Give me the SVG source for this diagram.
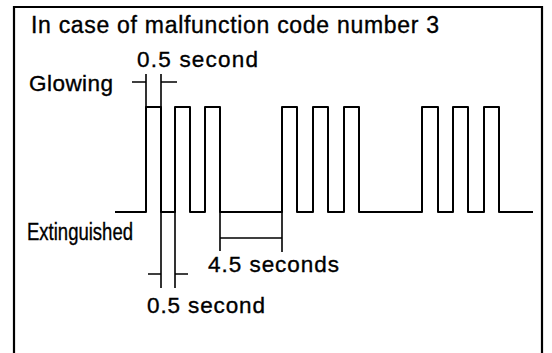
<svg xmlns="http://www.w3.org/2000/svg" width="552" height="353" viewBox="0 0 552 353">
  <style>
    .frame { fill: none; stroke: #000; stroke-width: 2.2; }
    .wave { fill: none; stroke: #000; stroke-width: 2; stroke-linejoin: round; }
    .dim { fill: none; stroke: #000; stroke-width: 1.6; }
    .t { font-family: "Liberation Sans", Arial, Helvetica, sans-serif; fill: #000; stroke: #000; stroke-width: 0.35; }
  </style>
  <rect width="552" height="353" fill="#fff"/>
  <g id="frame">
    <path class="frame" d="M14,353 V7 H542 V353"/>
  </g>
  <g id="title">
    <text class="t" x="31" y="33" font-size="23" textLength="408">In case of malfunction code number 3</text>
  </g>
  <g id="waveform">
    <path class="wave" d="M115,212 H146 V107 H161 V212 H175 V107 H190 V212 H205 V107 H220 V212 H282 V107 H297 V212 H313 V107 H328 V212 H344 V107 H359 V212 H422 V107 H438 V212 H453 V107 H468 V212 H484 V107 H499 V212 H533"/>
  </g>
  <g id="label-glowing">
    <text class="t" x="29" y="91" font-size="22.5" textLength="84">Glowing</text>
  </g>
  <g id="label-extinguished">
    <text class="t" x="27" y="240" font-size="23" textLength="106" lengthAdjust="spacingAndGlyphs">Extinguished</text>
  </g>
  <g id="connectors">
    <!-- top 0.5 second dimension -->
    <path class="dim" d="M146,74 V107 M161,74 V107 M132,82 H146 M161,82 H177"/>
    <!-- bottom 0.5 second dimension -->
    <path class="dim" d="M161,212 V288 M175,212 V288 M148,274 H161 M175,274 H188"/>
    <!-- 4.5 seconds dimension -->
    <path class="dim" d="M220,212 V251 M282,212 V252 M220,238 H282"/>
  </g>
  <g id="label-top-05">
    <text class="t" x="137" y="67" font-size="22.5" textLength="121">0.5 second</text>
  </g>
  <g id="label-45">
    <text class="t" x="208" y="272" font-size="22.5" textLength="131">4.5 seconds</text>
  </g>
  <g id="label-bottom-05">
    <text class="t" x="147" y="313" font-size="22.5" textLength="118">0.5 second</text>
  </g>
</svg>
